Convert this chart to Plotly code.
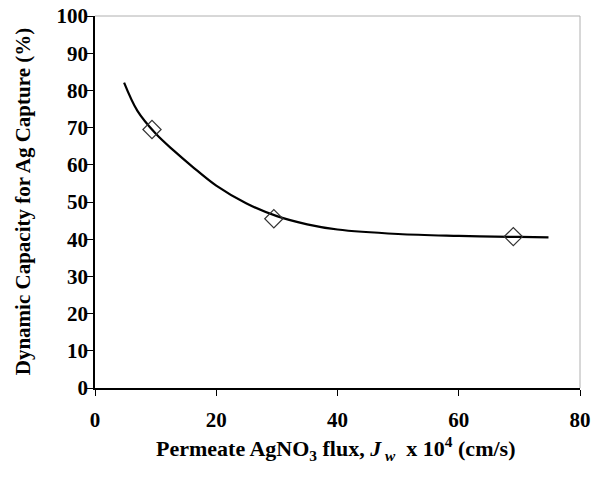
import plotly.graph_objects as go

# Measured points (diamonds).
flux_pts = [9.4, 29.5, 69.0]
capacity_pts = [69.5, 45.5, 40.7]

# Trend curve.
flux_curve = [4.8, 7, 10, 13, 16, 20, 25, 30, 35, 40, 50, 60, 70, 74.8]
capacity_curve = [82.1, 74.5, 68.4, 63.8, 59.6, 54.4, 49.6, 46.2, 44.0, 42.6, 41.4, 40.9, 40.6, 40.5]

x_ticks = [0, 20, 40, 60, 80]
y_ticks = [0, 10, 20, 30, 40, 50, 60, 70, 80, 90, 100]

font_family = "Liberation Serif"

fig = go.Figure()

fig.add_trace(go.Scatter(
    x=flux_curve, y=capacity_curve,
    mode='lines',
    line=dict(color='black', width=2.2, shape='spline'),
    showlegend=False, hoverinfo='skip'
    ))

fig.add_trace(go.Scatter(
    x=flux_pts, y=capacity_pts,
    mode='markers',
    marker=dict(symbol='diamond-open', size=14, color='#333333', line=dict(width=1.2)),
    showlegend=False
    ))

# Grey frame on top and right.
fig.add_shape(type='line', xref='paper', yref='paper', x0=0, x1=1, y0=1, y1=1,
              line=dict(color='#b0b0b0', width=1))
fig.add_shape(type='line', xref='paper', yref='paper', x0=1, x1=1, y0=0, y1=1,
              line=dict(color='#b0b0b0', width=1))

# Axis titles as annotations so they sit where the reference has them.
fig.add_annotation(
    text='Permeate AgNO<sub>3</sub> flux, <i>J<sub> w</sub></i>  x 10<sup>4</sup> (cm/s)',
    xref='paper', yref='paper', x=0.495, y=-0.162, xanchor='center', yanchor='middle',
    showarrow=False, font=dict(family=font_family, size=22, weight='bold')
    )
fig.add_annotation(
    text='Dynamic Capacity for Ag Capture (%)',
    xref='paper', yref='paper', x=-0.148, y=0.5, xanchor='center', yanchor='middle',
    textangle=-90, showarrow=False, font=dict(family=font_family, size=21, weight='bold')
    )

fig.update_layout(
    width=600, height=482,
    margin=dict(l=95, r=20, t=16, b=94, autoexpand=False),
    plot_bgcolor='white', paper_bgcolor='white',
    font=dict(family=font_family, size=20, color='black'),
    )

fig.update_xaxes(
    range=[0, 80], tickvals=x_ticks,
    showgrid=False, zeroline=False, automargin=False,
    showline=True, linecolor='black', linewidth=1.5,
    ticks='outside', ticklen=6, tickcolor='black', tickwidth=1,
    ticklabelstandoff=6, ticklabeloverflow='allow',
    tickfont=dict(family=font_family, size=21, weight='bold'),
    )
fig.update_yaxes(
    range=[0, 100], tickvals=y_ticks,
    showgrid=False, zeroline=False, automargin=False,
    showline=True, linecolor='black', linewidth=1.5,
    ticks='outside', ticklen=7, tickcolor='black', tickwidth=1,
    ticklabelstandoff=-6, ticklabeloverflow='allow',
    tickfont=dict(family=font_family, size=21, weight='bold'),
    )

# Drop the default page margin so the figure fills the window.
fig.write_html("out.html", config={'displayModeBar': False},
               post_script="document.body.style.margin='0';")
